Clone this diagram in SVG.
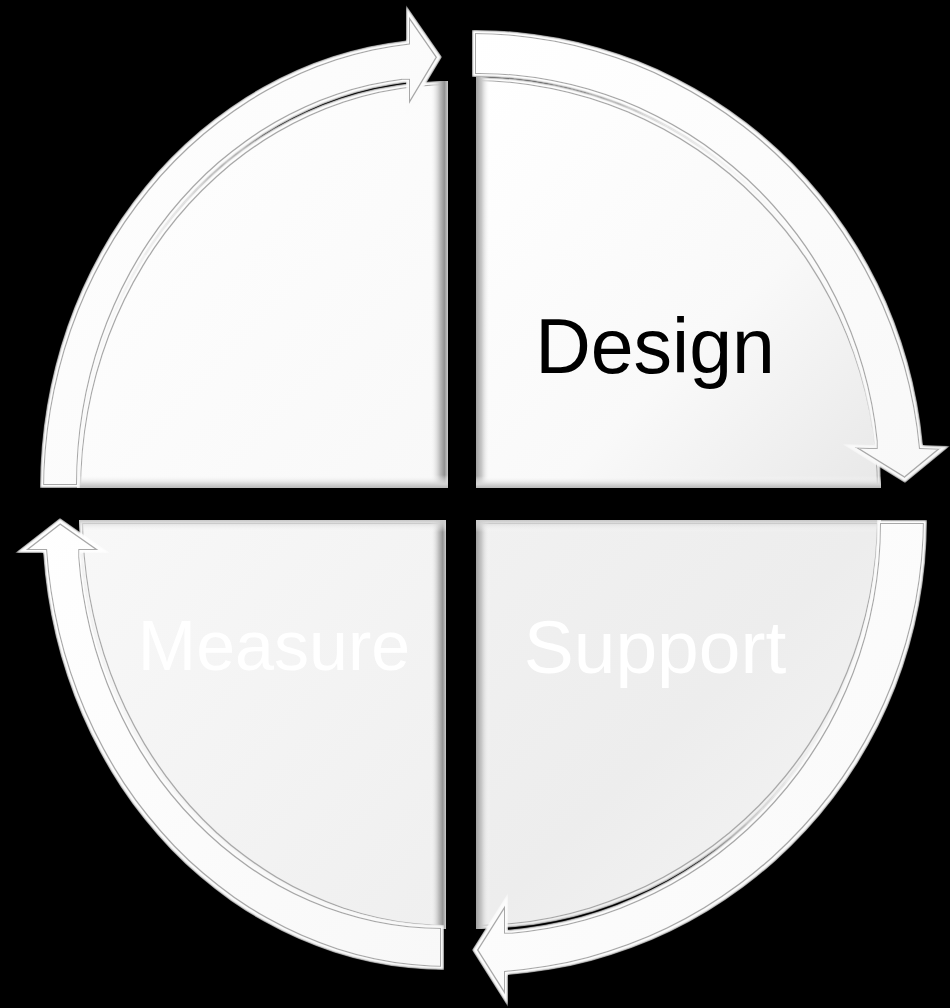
<svg xmlns="http://www.w3.org/2000/svg" width="950" height="1008" viewBox="0 0 950 1008">
  <style>
    .pie { filter: url(#bevel); }
    .arrow { fill: url(#gArrow); filter: url(#bevel); }
    .lbl { font-family: "Liberation Sans", Arial, sans-serif; text-anchor: middle; }
  </style>
  <defs>
    <filter id="bevel" x="-5%" y="-5%" width="110%" height="110%">
      <feMorphology in="SourceAlpha" operator="erode" radius="3" result="e1"/>
      <feMorphology in="SourceAlpha" operator="erode" radius="4" result="e2"/>
      <feComposite in="e1" in2="e2" operator="out" result="ring"/>
      <feGaussianBlur in="ring" stdDeviation="0.6" result="ringb"/>
      <feFlood flood-color="#a8a8a8" result="fl"/>
      <feComposite in="fl" in2="ringb" operator="in" result="ringc"/>
      <feGaussianBlur in="SourceAlpha" stdDeviation="1.2" result="soft"/>
      <feComposite in="SourceGraphic" in2="soft" operator="in" result="src"/>
      <feMerge><feMergeNode in="src"/><feMergeNode in="ringc"/></feMerge>
    </filter>
    <linearGradient id="gArrow" x1="0" y1="0" x2="1" y2="1">
      <stop offset="0" stop-color="#ffffff"/>
      <stop offset="1" stop-color="#f8f8f8"/>
    </linearGradient>
    <linearGradient id="gTL" x1="0" y1="0" x2="1" y2="1">
      <stop offset="0" stop-color="#ffffff"/>
      <stop offset="1" stop-color="#f8f8f8"/>
    </linearGradient>
    <linearGradient id="gTR" x1="0" y1="0" x2="1" y2="1">
      <stop offset="0" stop-color="#ffffff"/>
      <stop offset="0.6" stop-color="#f9f9f9"/>
      <stop offset="1" stop-color="#e8e8e8"/>
    </linearGradient>
    <linearGradient id="gBL" x1="0" y1="0" x2="1" y2="1">
      <stop offset="0" stop-color="#f8f8f8"/>
      <stop offset="1" stop-color="#efefef"/>
    </linearGradient>
    <linearGradient id="gBR" x1="0" y1="0" x2="1" y2="1">
      <stop offset="0" stop-color="#f1f1f1"/>
      <stop offset="0.5" stop-color="#ededed"/>
      <stop offset="1" stop-color="#f5f5f5"/>
    </linearGradient>
    <linearGradient id="shR" x1="0" y1="0" x2="1" y2="0">
      <stop offset="0" stop-color="#ffffff" stop-opacity="0"/>
      <stop offset="0.55" stop-color="#bdbdbd"/>
      <stop offset="0.8" stop-color="#939393"/>
      <stop offset="1" stop-color="#cccccc"/>
    </linearGradient>
    <linearGradient id="shL" x1="1" y1="0" x2="0" y2="0">
      <stop offset="0" stop-color="#ffffff" stop-opacity="0"/>
      <stop offset="0.6" stop-color="#c8c8c8"/>
      <stop offset="1" stop-color="#a0a0a0"/>
    </linearGradient>
    <linearGradient id="shB" x1="0" y1="0" x2="0" y2="1">
      <stop offset="0" stop-color="#ffffff" stop-opacity="0"/>
      <stop offset="0.7" stop-color="#d4d4d4"/>
      <stop offset="1" stop-color="#b8b8b8"/>
    </linearGradient>
    <linearGradient id="shT" x1="0" y1="1" x2="0" y2="0">
      <stop offset="0" stop-color="#ffffff" stop-opacity="0"/>
      <stop offset="1" stop-color="#cacaca"/>
    </linearGradient>
    <clipPath id="cTL"><path d="M448 488 L77 488 A371 407 0 0 1 448 81 Z"/></clipPath>
    <clipPath id="cTR"><path d="M476 488 L476 77 A405 411 0 0 1 881 488 Z"/></clipPath>
    <clipPath id="cBL"><path d="M446 520 L446 929 A367 409 0 0 1 79 520 Z"/></clipPath>
    <clipPath id="cBR"><path d="M476 520 L881 520 A405 409 0 0 1 476 929 Z"/></clipPath>
  </defs>

  <rect x="0" y="0" width="950" height="1008" fill="#000000"/>

  <g id="node-tl">
    <path class="pie" fill="url(#gTL)" d="M448 488 L77 488 A371 407 0 0 1 448 81 Z"/>
    <g clip-path="url(#cTL)">
      <rect x="430" y="60" width="18" height="430" fill="url(#shR)"/>
      <rect x="60" y="475" width="390" height="13" fill="url(#shB)"/>
    </g>
  </g>

  <g id="node-design">
    <path class="pie" fill="url(#gTR)" d="M476 488 L476 77 A405 411 0 0 1 881 488 Z"/>
    <g clip-path="url(#cTR)">
      <rect x="476" y="60" width="14" height="430" fill="url(#shL)"/>
      <rect x="476" y="476" width="410" height="12" fill="url(#shB)"/>
    </g>
    <text class="lbl" x="655" y="373" font-size="77" fill="#000000">Design</text>
  </g>

  <g id="node-measure">
    <path class="pie" fill="url(#gBL)" d="M446 520 L446 929 A367 409 0 0 1 79 520 Z"/>
    <g clip-path="url(#cBL)">
      <rect x="430" y="520" width="16" height="412" fill="url(#shR)"/>
      <rect x="70" y="520" width="380" height="12" fill="url(#shT)"/>
    </g>
    <text class="lbl" x="274" y="670" font-size="70" fill="#ffffff">Measure</text>
  </g>

  <g id="node-support">
    <path class="pie" fill="url(#gBR)" d="M476 520 L881 520 A405 409 0 0 1 476 929 Z"/>
    <g clip-path="url(#cBR)">
      <rect x="476" y="520" width="14" height="412" fill="url(#shL)"/>
      <rect x="476" y="520" width="410" height="12" fill="url(#shT)"/>
    </g>
    <text class="lbl" x="655" y="673" font-size="75" fill="#ffffff">Support</text>
  </g>

  <g id="connectors">
    <path class="arrow" d="M40 488 L80 488 A368 408 0 0 1 406 82.7 L406 117 L442 57 L406 5 L406 40.4 A408 450 0 0 0 40 488 Z"/>
    <path class="arrow" d="M472 30 L472 77 L476 77 A400 411 0 0 1 873.8 445 L842 444 L905 483 L950 446 L923 445 A449 458 0 0 0 476 30 Z"/>
    <path class="arrow" d="M877 520 L927 520 A451 456 0 0 1 508 974.9 L508 1007 L472 950 L508 893 L508 929.7 A401 411 0 0 0 877 520 Z"/>
    <path class="arrow" d="M444 970 L444 925 L446 925 A365 405 0 0 1 82.2 553 L110 553 L60 518 L15 553 L43.1 553 A404 450 0 0 0 446 970 Z"/>
  </g>
</svg>
